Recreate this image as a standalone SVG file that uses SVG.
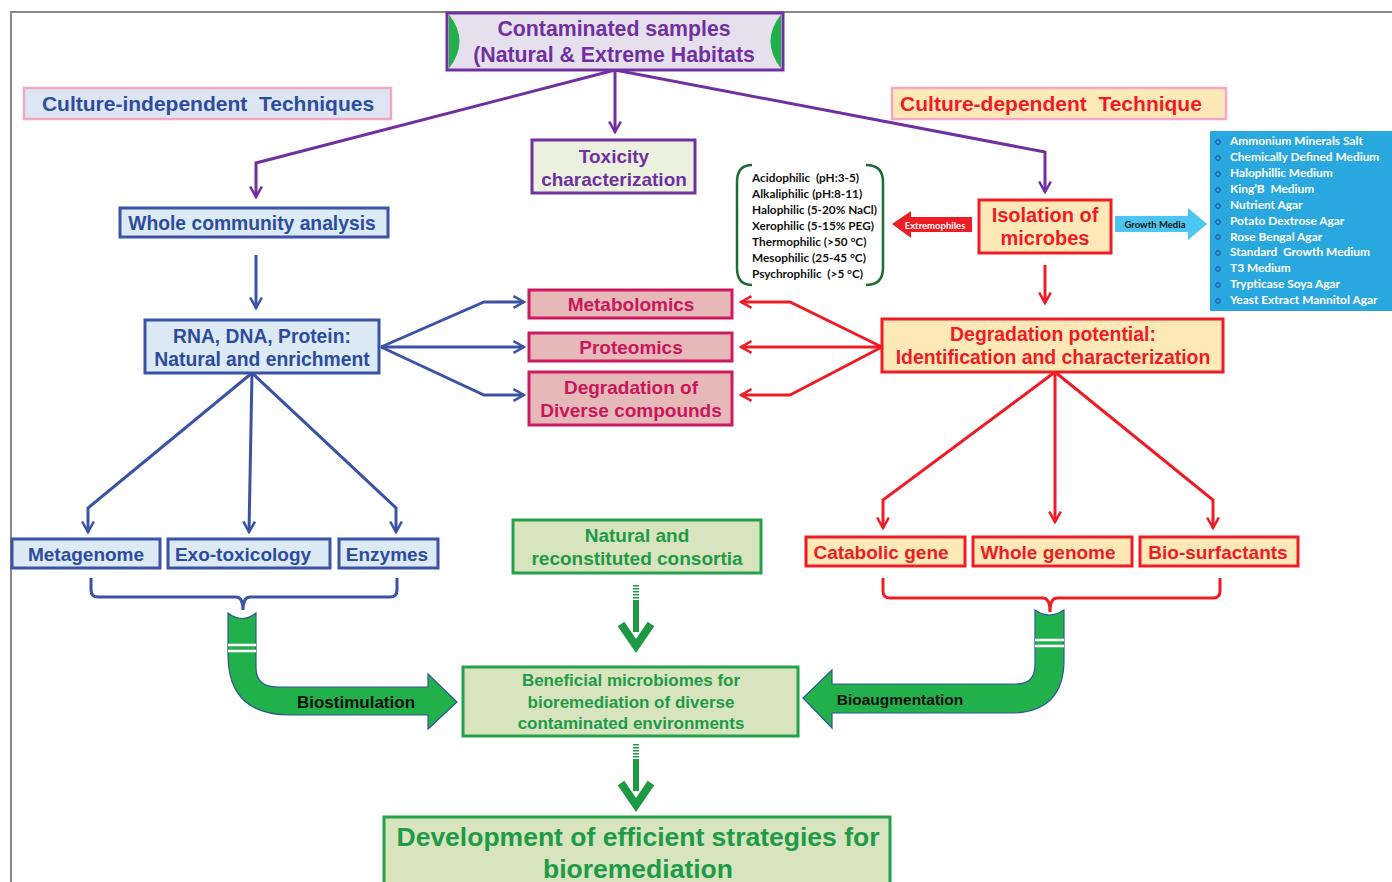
<svg xmlns="http://www.w3.org/2000/svg" width="1392" height="882" viewBox="0 0 1392 882">
<style>
text{font-family:"Liberation Sans",Arial,sans-serif;font-weight:bold;text-anchor:middle;white-space:pre}
.cal{font-family:Lato,"Open Sans",sans-serif;font-weight:bold;text-anchor:start}
.pur{fill:#7030a0}.blu{fill:#2f4b9c}.red{fill:#ee1c25}.cri{fill:#c8175d}.grn{fill:#1e9a48}
.bP{fill:#e6e0ee;stroke:#7030a0;stroke-width:3}
.bB{fill:#dbeaf5;stroke:#3a53a4;stroke-width:3}
.bR{fill:#fde9b8;stroke:#ee1c25;stroke-width:3}
.bC{fill:#e6b9b8;stroke:#cc1b62;stroke-width:3}
.bG{fill:#d7e4bd;stroke:#23a24a;stroke-width:3}
.lP{fill:none;stroke:#7030a0;stroke-width:3}
.lB{fill:none;stroke:#3a53a4;stroke-width:3}
.lR{fill:none;stroke:#ee1c25;stroke-width:3}
.gArr{fill:#22b04b;stroke:#2f5597;stroke-width:1.2}
</style>
<defs>
<marker id="mP" viewBox="0 0 12 12" refX="10" refY="6" markerWidth="14" markerHeight="14" markerUnits="userSpaceOnUse" orient="auto"><path d="M1,1 L10,6 L1,11" fill="none" stroke="#7030a0" stroke-width="2.2"/></marker>
<marker id="mB" viewBox="0 0 12 12" refX="10" refY="6" markerWidth="14" markerHeight="14" markerUnits="userSpaceOnUse" orient="auto"><path d="M1,1 L10,6 L1,11" fill="none" stroke="#3a53a4" stroke-width="2.2"/></marker>
<marker id="mR" viewBox="0 0 12 12" refX="10" refY="6" markerWidth="14" markerHeight="14" markerUnits="userSpaceOnUse" orient="auto"><path d="M1,1 L10,6 L1,11" fill="none" stroke="#ee1c25" stroke-width="2.2"/></marker>
</defs>
<rect width="1392" height="882" fill="#ffffff"/>
<!-- frame -->
<path d="M11,882 L11,12 L1392,12" fill="none" stroke="#888888" stroke-width="2"/>

<!-- connectors -->
<g id="connectors">
<polyline class="lP" points="615,70 256,163 256,197" marker-end="url(#mP)"/>
<line class="lP" x1="615" y1="70" x2="615" y2="132" marker-end="url(#mP)"/>
<polyline class="lP" points="615,70 1045,152 1045,192" marker-end="url(#mP)"/>
<line class="lB" x1="256" y1="255" x2="256" y2="308" marker-end="url(#mB)"/>
<polyline class="lB" points="381,347 484,302 524,302" marker-end="url(#mB)"/>
<line class="lB" x1="381" y1="347" x2="524" y2="347" marker-end="url(#mB)"/>
<polyline class="lB" points="381,347 484,395 524,395" marker-end="url(#mB)"/>
<polyline class="lB" points="252,373 88,508 88,532" marker-end="url(#mB)"/>
<line class="lB" x1="252" y1="373" x2="249" y2="532" marker-end="url(#mB)"/>
<polyline class="lB" points="252,373 396,508 396,532" marker-end="url(#mB)"/>
<line class="lR" x1="1045" y1="265" x2="1045" y2="303" marker-end="url(#mR)"/>
<polyline class="lR" points="882,347 790,302 741,302" marker-end="url(#mR)"/>
<line class="lR" x1="882" y1="347" x2="741" y2="347" marker-end="url(#mR)"/>
<polyline class="lR" points="882,347 790,395 741,395" marker-end="url(#mR)"/>
<polyline class="lR" points="1055,372 883,500 883,528" marker-end="url(#mR)"/>
<line class="lR" x1="1055" y1="372" x2="1055" y2="522" marker-end="url(#mR)"/>
<polyline class="lR" points="1055,372 1213,500 1213,528" marker-end="url(#mR)"/>
<!-- brackets -->
<path class="lB" d="M91,578 L91,590 Q91,597 98,597 L236,597 Q243,597 243,610 Q243,597 250,597 L390,597 Q397,597 397,590 L397,578"/>
<path class="lR" d="M883,578 L883,591 Q883,598 890,598 L1043,598 Q1050,598 1050,612 Q1050,598 1057,598 L1213,598 Q1220,598 1220,591 L1220,578"/>
<!-- extremophiles block arrow -->
<polygon points="892,224 911,211 911,217 972,217 972,232 911,232 911,238" fill="#ee1c25"/>
<text x="935" y="229" style="font-size:9.5px;fill:#ffffff;font-family:Lato,sans-serif">Extremophiles</text>
<!-- growth media block arrow -->
<polygon points="1115,216 1188,216 1188,208 1207,224 1188,240 1188,232 1115,232" fill="#4cc6f0"/>
<text x="1155" y="228" style="font-size:9.5px;fill:#111111;font-family:Lato,sans-serif">Growth Media</text>
<!-- green dashed arrows -->
<g fill="#1e9a45">
<rect x="633" y="585" width="6" height="1.5"/><rect x="633" y="588" width="6" height="1.5"/><rect x="633" y="591" width="6" height="1.5"/><rect x="633" y="594" width="6" height="1.5"/><rect x="633" y="597" width="6" height="1.5"/>
<rect x="633" y="600" width="6" height="32"/>
<rect x="633" y="744" width="6" height="1.5"/><rect x="633" y="747" width="6" height="1.5"/><rect x="633" y="750" width="6" height="1.5"/><rect x="633" y="753" width="6" height="1.5"/><rect x="633" y="756" width="6" height="1.5"/>
<rect x="633" y="759" width="6" height="32"/>
</g>
<polyline points="621,624 636,646 651,624" fill="none" stroke="#1e9a45" stroke-width="8"/>
<polyline points="621,783 636,805 651,783" fill="none" stroke="#1e9a45" stroke-width="8"/>
<!-- curved green arrows -->
<path class="gArr" d="M228,613 Q242,624 256,613 L256,668 Q256,687 278,687 L428,687 L428,674 L457,702 L428,729 L428,715 L290,715 Q228,715 228,655 Z"/>
<line x1="228" y1="645" x2="256" y2="645" stroke="#ffffff" stroke-width="2.5"/>
<line x1="228" y1="651" x2="256" y2="651" stroke="#ffffff" stroke-width="2.5"/>
<text x="356" y="708" style="font-size:17px;fill:#111111">Biostimulation</text>
<path class="gArr" d="M1035,610 Q1049,620 1064,610 L1064,660 Q1064,713 1010,713 L832,713 L832,728 L803,698 L832,670 L832,684 L1016,684 Q1035,684 1035,665 Z"/>
<line x1="1035" y1="640" x2="1064" y2="640" stroke="#ffffff" stroke-width="2.5"/>
<line x1="1035" y1="646" x2="1064" y2="646" stroke="#ffffff" stroke-width="2.5"/>
<text x="900" y="705" style="font-size:15.5px;fill:#111111">Bioaugmentation</text>
</g>

<g id="contaminated">
<rect class="bP" x="447" y="13" width="336" height="57"/>
<path d="M449,14.5 Q470,41 449,68.5 Z" fill="#22b04b"/>
<path d="M781,14.5 Q760,41 781,68.5 Z" fill="#22b04b"/>
<text class="pur" x="614" y="36" style="font-size:21.3px">Contaminated samples</text>
<text class="pur" x="614" y="62" style="font-size:21.3px">(Natural &amp; Extreme Habitats</text>
</g>
<g id="culture-independent">
<rect x="24" y="88" width="367" height="31" fill="#dce6f2" stroke="#f4a6c6" stroke-width="2.5"/>
<text class="blu" x="208" y="111" style="font-size:21px">Culture-independent  Techniques</text>
</g>
<g id="culture-dependent">
<rect x="892" y="88" width="334" height="31" fill="#fde9b8" stroke="#f4a6c6" stroke-width="2.5"/>
<text class="red" x="1051" y="111" style="font-size:21px">Culture-dependent  Technique</text>
</g>
<g id="toxicity">
<rect x="532" y="140" width="163" height="53" fill="#ebf1de" stroke="#7030a0" stroke-width="3"/>
<text class="pur" x="614" y="163" style="font-size:19px">Toxicity</text>
<text class="pur" x="614" y="186" style="font-size:19px">characterization</text>
</g>
<g id="whole-community">
<rect class="bB" x="120" y="208" width="268" height="29"/>
<text class="blu" x="252" y="230" style="font-size:19.3px">Whole community analysis</text>
</g>
<g id="rna">
<rect class="bB" x="145" y="320" width="234" height="53"/>
<text class="blu" x="262" y="343" style="font-size:19.3px">RNA, DNA, Protein:</text>
<text class="blu" x="262" y="366" style="font-size:19.3px">Natural and enrichment</text>
</g>
<g id="metabolomics">
<rect class="bC" x="529" y="290" width="203" height="28"/>
<text class="cri" x="631" y="311" style="font-size:19px">Metabolomics</text>
</g>
<g id="proteomics">
<rect class="bC" x="529" y="333" width="203" height="28"/>
<text class="cri" x="631" y="354" style="font-size:19px">Proteomics</text>
</g>
<g id="degradation-diverse">
<rect class="bC" x="529" y="372" width="203" height="53"/>
<text class="cri" x="631" y="394" style="font-size:19px">Degradation of</text>
<text class="cri" x="631" y="417" style="font-size:19px">Diverse compounds</text>
</g>
<g id="extremophile-list">
<path d="M752,165 Q737,165 737,182 L737,268 Q737,285 752,285" fill="none" stroke="#1e6b33" stroke-width="2.5"/>
<path d="M866,165 Q883,165 883,182 L883,268 Q883,285 866,285" fill="none" stroke="#1e6b33" stroke-width="2.5"/>
<g style="font-size:11.8px;fill:#111111">
<text class="cal" x="752" y="182">Acidophilic  (pH:3-5)</text>
<text class="cal" x="752" y="198">Alkaliphilic (pH:8-11)</text>
<text class="cal" x="752" y="214">Halophilic (5-20% NaCl)</text>
<text class="cal" x="752" y="230">Xerophilic (5-15% PEG)</text>
<text class="cal" x="752" y="246">Thermophilic (&gt;50 °C)</text>
<text class="cal" x="752" y="262">Mesophilic (25-45 °C)</text>
<text class="cal" x="752" y="278">Psychrophilic  (&gt;5 °C)</text>
</g>
</g>
<g id="isolation">
<rect class="bR" x="979" y="200" width="132" height="53"/>
<text class="red" x="1045" y="222" style="font-size:20px">Isolation of</text>
<text class="red" x="1045" y="245" style="font-size:20px">microbes</text>
</g>
<g id="growth-media-list">
<rect x="1210" y="131" width="182" height="180" fill="#29a8e0"/>
<g fill="none" stroke="#2e3d8f" stroke-width="1">
<circle cx="1218" cy="142" r="2.3"/><circle cx="1218" cy="158" r="2.3"/><circle cx="1218" cy="174" r="2.3"/><circle cx="1218" cy="190" r="2.3"/><circle cx="1218" cy="206" r="2.3"/><circle cx="1218" cy="222" r="2.3"/><circle cx="1218" cy="237" r="2.3"/><circle cx="1218" cy="253" r="2.3"/><circle cx="1218" cy="269" r="2.3"/><circle cx="1218" cy="285" r="2.3"/><circle cx="1218" cy="301" r="2.3"/>
</g>
<g style="font-size:11.9px;fill:#ffffff">
<text class="cal" x="1230" y="145">Ammonium Minerals Salt</text>
<text class="cal" x="1230" y="161">Chemically Defined Medium</text>
<text class="cal" x="1230" y="177">Halophillic Medium</text>
<text class="cal" x="1230" y="193">King’B  Medium</text>
<text class="cal" x="1230" y="209">Nutrient Agar</text>
<text class="cal" x="1230" y="225">Potato Dextrose Agar</text>
<text class="cal" x="1230" y="241">Rose Bengal Agar</text>
<text class="cal" x="1230" y="256">Standard  Growth Medium</text>
<text class="cal" x="1230" y="272">T3 Medium</text>
<text class="cal" x="1230" y="288">Trypticase Soya Agar</text>
<text class="cal" x="1230" y="304">Yeast Extract Mannitol Agar</text>
</g>
</g>
<g id="degradation-potential">
<rect class="bR" x="882" y="319" width="341" height="53"/>
<text class="red" x="1053" y="341" style="font-size:19.4px">Degradation potential:</text>
<text class="red" x="1053" y="364" style="font-size:19.4px">Identification and characterization</text>
</g>
<g id="metagenome">
<rect class="bB" x="12" y="539" width="148" height="29"/>
<text class="blu" x="86" y="561" style="font-size:19px">Metagenome</text>
</g>
<g id="exo-toxicology">
<rect class="bB" x="168" y="539" width="162" height="29"/>
<text class="blu" x="243" y="561" style="font-size:19px">Exo-toxicology</text>
</g>
<g id="enzymes">
<rect class="bB" x="339" y="539" width="99" height="29"/>
<text class="blu" x="387" y="561" style="font-size:19px">Enzymes</text>
</g>
<g id="catabolic">
<rect class="bR" x="806" y="537" width="159" height="29"/>
<text class="red" x="881" y="559" style="font-size:19px">Catabolic gene</text>
</g>
<g id="whole-genome">
<rect class="bR" x="973" y="537" width="159" height="29"/>
<text class="red" x="1048" y="559" style="font-size:19px">Whole genome</text>
</g>
<g id="bio-surfactants">
<rect class="bR" x="1140" y="537" width="158" height="29"/>
<text class="red" x="1218" y="559" style="font-size:19px">Bio-surfactants</text>
</g>
<g id="consortia">
<rect class="bG" x="513" y="520" width="248" height="53"/>
<text class="grn" x="637" y="542" style="font-size:19px">Natural and</text>
<text class="grn" x="637" y="565" style="font-size:19px">reconstituted consortia</text>
</g>
<g id="beneficial">
<rect class="bG" x="463" y="667" width="335" height="69"/>
<text class="grn" x="631" y="686" style="font-size:17px">Beneficial microbiomes for</text>
<text class="grn" x="631" y="708" style="font-size:17px">bioremediation of diverse</text>
<text class="grn" x="631" y="729" style="font-size:17px">contaminated environments</text>
</g>
<g id="development">
<rect class="bG" x="384" y="817" width="506" height="70"/>
<text class="grn" x="638" y="846" style="font-size:26.5px">Development of efficient strategies for</text>
<text class="grn" x="638" y="878" style="font-size:26.5px">bioremediation</text>
</g>
</svg>
